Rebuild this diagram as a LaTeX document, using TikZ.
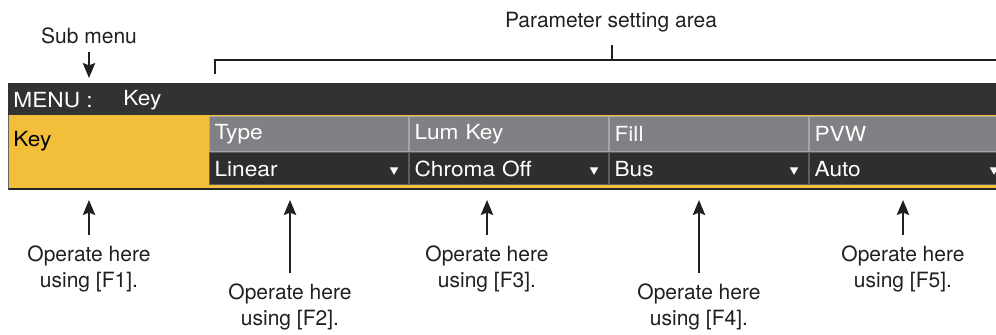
\documentclass[tikz,border=0pt]{standalone}
\usepackage{fontspec}
\setmainfont{TeX Gyre Heros}
\newfontfamily\panelfont[FakeStretch=1.09]{TeX Gyre Heros}
\definecolor{menubar}{RGB}{50, 50, 50}
\definecolor{keyyellow}{RGB}{243, 191, 58}
\definecolor{hdrgray}{RGB}{128, 129, 132}
\definecolor{hdrline}{RGB}{165, 166, 168}
\definecolor{valdark}{RGB}{46, 46, 46}
\definecolor{valline}{RGB}{95, 95, 97}
\definecolor{callout}{RGB}{35, 31, 32}
\usetikzlibrary{arrows.meta, calc, positioning, shapes.geometric}
\tikzset{
	callarrow/.style={-{Stealth[length=7.5pt,width=6.2pt,inset=1.2pt]},line width=0.9pt,draw=callout},
	calltext/.style={align=center,text=callout,inner xsep=0pt,inner ysep=5pt,
		font=\fontsize{10.5}{13}\selectfont},
	bracket/.style={draw=callout,line width=0.75pt},
	menutext/.style={anchor=west,inner sep=0pt,text=white,font=\panelfont\fontsize{10.4}{12}\selectfont},
}

\begin{document}
\begin{tikzpicture}[x=0.5pt,y=-0.5pt,
		hdrcell/.style={anchor=north west,fill=hdrgray,draw=hdrline,line width=0.6pt,
			text width=94.4pt,inner xsep=2.5pt,minimum height=17.5pt,text=white,
			font=\panelfont\fontsize{10.4}{12}\selectfont},
		valcell/.style={anchor=north west,fill=valdark,draw=valline,line width=0.6pt,
			text width=94.4pt,inner xsep=2.5pt,minimum height=16pt,text=white,
			font=\panelfont\fontsize{10.4}{12}\selectfont},
		droptri/.style={regular polygon,regular polygon sides=3,shape border rotate=180,
			fill=white,inner sep=0pt,minimum size=5pt}]
	\useasboundingbox (0,0) rectangle (996,334);

	% menu panel
	\begin{scope}
		\clip (0,0) rectangle (996,334);
		\fill[menubar] (8,83) rectangle (1000,115);
		\fill[keyyellow] (8,115) rectangle (1000,188);
		\draw[black!85,line width=1pt] (8,189) -- (1000,189);
		\draw[black!60,line width=0.4pt] (8.5,115) -- (8.5,189);
		\node[menutext] (menutitle) at (13,100) {MENU :};
		\node[menutext] (menusub) at (123,100) {Key};
		\node[menutext,text=black] (keyname) at (13,141) {Key};
		\foreach \i/\hname/\vname in {1/Type/Linear, 2/Lum Key/Chroma Off, 3/Fill/Bus, 4/PVW/Auto}{
			\node[hdrcell] (hdr\i) at ({209+200*(\i-1)},116) {\hname};
			\node[valcell,below=0pt of hdr\i.south west,anchor=north west] (val\i) {\vname};
			\node[droptri] (tri\i) at ($(val\i.east)+(-15,1)$) {};
		}
	\end{scope}

	% top labels
	\node[calltext,inner ysep=4pt] (submenu) at (89,36) {Sub menu};
	\coordinate (subtip) at (89,78);
	\draw[callarrow] (submenu.south) -- (subtip);

	\node[calltext] (param) at (611,22) {Parameter setting area};
	\coordinate (brk) at (612,60);
	\draw[bracket] (215,74) -- (215,60) -- (996,60);
	\draw[bracket] (brk) -- ++(0,-15);

	% bottom labels
	\foreach \i/\xx/\yy in {1/89/269, 2/290/307, 3/487/269, 4/699/307, 5/903/269}{
		\node[calltext] (op\i) at (\xx,\yy) {Operate here\\using [F\i].};
		\coordinate (tip\i) at (\xx,200);
		\draw[callarrow] (op\i.north) -- (tip\i);
	}
\end{tikzpicture}
\end{document}
